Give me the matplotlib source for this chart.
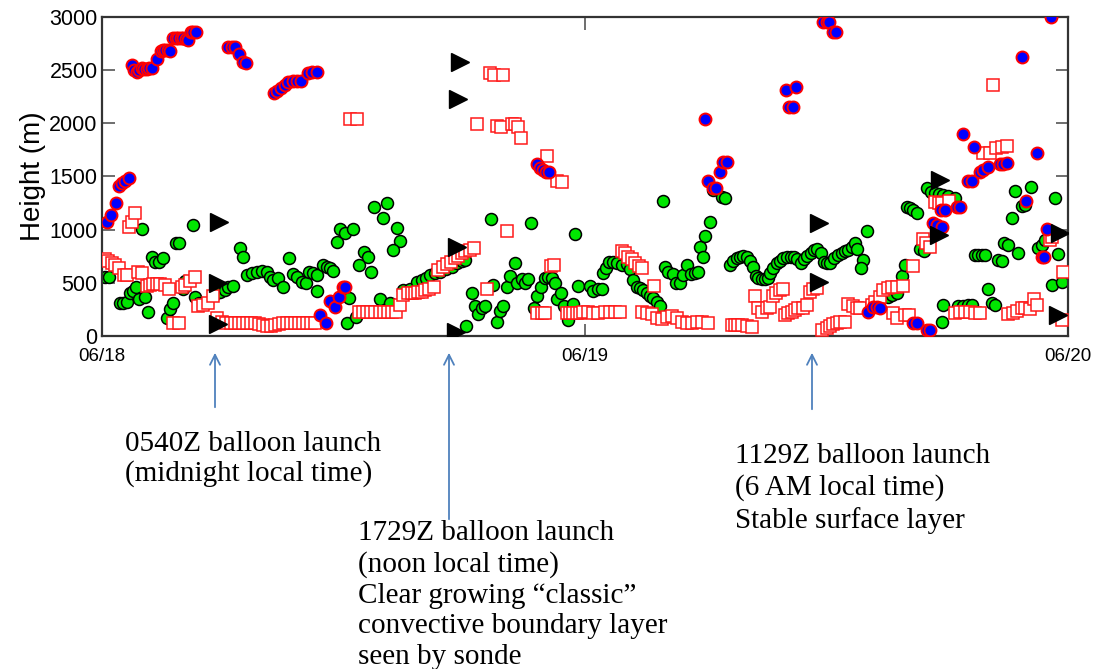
import numpy as np
import matplotlib.pyplot as plt

plt.rcParams['font.family'] = ['Liberation Sans', 'DejaVu Sans']

# hours after 06/18 00Z, heights in m
green_t = [0.16, 0.38, 0.91, 1.07, 1.24, 1.41, 1.57, 1.70, 1.87, 2.15, 2.31, 1.99, 2.48, 2.65, 2.86, 3.06,
           3.69, 3.85, 3.23, 3.39, 3.53, 4.52, 4.05, 4.14, 4.63, 4.85, 5.63, 5.88, 6.13, 6.29, 6.54, 6.87,
           7.00, 7.20, 7.45, 7.70, 7.95, 8.20, 8.36, 8.52, 8.77, 9.02, 9.32, 9.49, 9.69, 9.94, 10.15, 10.31,
           10.51, 10.71, 10.71, 10.98, 11.18, 11.34, 11.51, 11.67, 11.84, 12.09, 12.20, 12.50, 13.53, 14.16,
           13.99, 14.65, 14.82, 14.49, 13.03, 13.24, 12.80, 13.36, 12.30, 12.63, 13.83, 14.32, 14.98, 15.32,
           15.65, 15.90, 16.11, 16.31, 16.56, 16.81, 17.10, 17.39, 17.64, 17.88, 18.05, 18.12, 18.38, 18.54,
           18.71, 18.88, 19.04, 19.65, 19.79, 19.95, 19.32, 21.33, 23.51, 19.45, 20.15, 20.28, 20.53, 20.65,
           20.86, 21.03, 21.19, 21.48, 21.64, 21.81, 22.02, 22.19, 22.35, 22.52, 22.63, 22.80, 22.97, 23.18,
           23.40, 23.68, 24.26, 24.42, 24.67, 24.84, 24.92, 25.05, 25.22, 25.41, 25.61, 25.83, 26.08, 26.24,
           26.41, 26.58, 26.74, 26.91, 27.07, 27.24, 27.40, 27.57, 27.73, 27.87, 27.98, 28.15, 28.37, 28.53,
           28.73, 28.89, 29.09, 29.26, 29.47, 29.64, 29.72, 29.89, 29.97, 30.22, 30.38, 30.80, 30.96, 31.21,
           31.38, 31.54, 31.71, 31.87, 32.04, 32.21, 32.37, 32.50, 32.62, 32.79, 32.95, 33.12, 33.20, 33.36,
           33.53, 33.70, 33.86, 34.06, 34.23, 34.39, 34.56, 34.72, 34.89, 35.05, 35.22, 35.38, 35.55, 35.72,
           35.88, 36.02, 36.18, 36.38, 36.59, 36.76, 36.93, 37.09, 37.26, 37.42, 37.54, 38.03, 37.83, 37.70,
           39.74, 39.91, 39.08, 39.24, 39.49, 39.99, 40.15, 40.32, 40.52, 40.65, 40.85, 40.98, 41.18, 41.40,
           41.61, 41.81, 42.06, 42.39, 41.81, 41.73, 42.55, 42.80, 43.05, 43.22, 43.38, 43.55, 43.72, 43.88,
           44.04, 44.21, 44.38, 44.54, 44.71, 44.82, 45.04, 45.21, 45.37, 45.53, 45.70, 45.87, 46.15, 46.53,
           46.70, 46.87, 47.37, 47.52, 47.19, 47.69]
green_h = [557, 557, 307, 307, 322, 407, 426, 458, 345, 364, 228, 1002, 745, 698, 698, 730,
           877, 877, 166, 251, 313, 1043, 445, 520, 364, 307, 398, 416, 432, 458, 470, 824,
           745, 573, 589, 604, 614, 604, 557, 526, 542, 463, 730, 583, 557, 510, 495, 604,
           589, 573, 426, 667, 651, 636, 614, 886, 1002, 965, 119, 1002, 1215, 1247,
           1106, 1012, 895, 808, 792, 739, 667, 604, 354, 181, 345, 307, 432, 439,
           510, 526, 542, 573, 589, 604, 627, 651, 683, 707, 714, 94, 407, 282,
           207, 260, 282, 134, 238, 282, 1096, 1064, 958, 479, 458, 564, 683, 501,
           533, 501, 533, 260, 376, 458, 542, 551, 542, 495, 345, 407, 282, 150,
           301, 470, 470, 426, 439, 439, 589, 636, 698, 698, 689, 667, 676, 627,
           526, 458, 448, 432, 407, 376, 354, 322, 282, 1271, 651, 604, 582, 501,
           495, 573, 667, 582, 589, 604, 833, 739, 940, 1074, 1372, 1309, 1294, 667,
           707, 730, 739, 752, 745, 707, 651, 564, 542, 533, 533, 542, 589, 636,
           683, 707, 730, 745, 745, 739, 721, 689, 721, 752, 783, 808, 815, 783,
           698, 683, 689, 730, 761, 783, 801, 808, 833, 871, 815, 989, 714, 636,
           564, 667, 369, 385, 401, 1215, 1200, 1184, 1158, 815, 801, 1388, 1356, 1346,
           1334, 1325, 1315, 1294, 291, 134, 282, 282, 291, 291, 761, 761, 761, 761,
           439, 307, 291, 714, 707, 871, 855, 1106, 1365, 783, 1221, 1231, 1397, 824,
           855, 902, 1294, 770, 479, 510]

red_t = [0.16, 0.33, 0.50, 0.66, 0.87, 1.11, 1.24, 1.37, 1.49, 1.65, 1.82, 1.99, 2.24, 2.40, 2.56, 2.73,
         2.90, 3.14, 3.36, 3.53, 3.85, 3.97, 4.14, 4.39, 4.63, 4.80, 5.05, 5.30, 5.54, 5.71, 5.96,
         6.2, 6.4, 6.6, 6.8, 7.0, 7.2, 7.4, 7.6, 7.8, 8.0, 8.2, 8.4, 8.6, 8.8, 9.0, 9.2, 9.4, 9.6,
         9.8, 10.0, 10.2, 10.4, 10.6,
         12.33, 12.67, 12.8, 13.0, 13.2, 13.4, 13.6, 13.8, 14.0, 14.2, 14.4, 14.6,
         14.82, 14.98, 15.23, 15.40, 15.56, 15.73, 15.90, 16.06, 16.27, 16.51, 16.72, 16.94, 17.14, 17.34,
         17.55, 17.71, 17.88, 18.05, 18.30, 18.51, 19.29, 19.50, 19.95, 18.66, 19.65, 19.82, 20.37, 20.53,
         20.70, 20.83, 22.14, 22.60, 22.85, 20.12, 19.16, 22.32, 22.47, 21.61, 21.86, 22.02,
         23.10, 23.26, 23.43, 23.60, 23.76, 23.92, 24.17, 24.42, 24.67, 25.00, 25.25, 25.50, 25.75,
         25.83, 26.00, 26.16, 26.33, 26.49, 26.71, 26.83, 27.44, 26.83, 27.07, 27.32, 27.57, 27.82, 28.07,
         28.32, 28.56, 28.81, 29.06, 29.31, 29.56, 29.81, 30.13, 31.30, 31.46, 31.62, 31.79, 32.04, 32.29,
         32.45, 32.62, 32.79, 33.04, 33.20, 33.33, 33.50, 33.70, 33.86, 33.94, 34.11, 34.28, 34.44, 34.61,
         34.85, 35.02, 35.19, 35.35, 35.52, 35.77, 36.02, 36.18, 36.34, 36.51, 36.68, 36.92, 37.09, 37.31,
         37.51, 37.67, 38.25, 38.42, 38.66, 38.83, 39.07, 39.24, 39.52, 39.79, 39.32, 39.49, 39.90, 40.12,
         40.29, 40.82, 40.95, 41.15, 41.40, 41.61, 41.73, 42.11, 43.77, 44.13, 44.43, 44.71, 44.96, 44.29,
         42.39, 42.64, 42.89, 43.13, 43.38, 43.63, 45.04, 45.26, 45.45, 45.70, 45.87, 46.12, 46.31, 46.48,
         47.11, 47.19, 47.77, 47.69]
red_h = [721, 707, 689, 667, 636, 573, 573, 1027, 1074, 1153, 604, 589, 470, 479, 489, 489,
         489, 479, 439, 119, 119, 463, 479, 520, 554, 282, 291, 307, 376, 166, 134,
         125, 125, 119, 119, 125, 119, 125, 119, 113, 103, 94, 94, 103, 113, 119, 119, 125, 119,
         119, 125, 119, 125, 125,
         2039, 2039, 228, 228, 228, 228, 228, 228, 228, 228, 228, 228,
         291, 385, 401, 401, 407, 416, 416, 432, 439, 458, 620, 651, 676, 698,
         730, 752, 777, 801, 808, 824, 2468, 2452, 2452, 1992, 1973, 1961, 1992, 1992,
         1961, 1857, 1691, 1459, 1444, 989, 439, 658, 667, 213, 213, 213,
         219, 219, 219, 219, 219, 228, 228, 213, 213, 228, 228, 228, 228,
         801, 777, 745, 720, 683, 658, 636, 470, 228, 219, 207, 166, 157, 181,
         188, 166, 134, 125, 125, 134, 134, 119, 103, 103, 103, 103, 94, 87,
         376, 260, 228, 260, 275, 376, 407, 432, 439, 197, 213, 228, 244, 260,
         260, 291, 416, 439, 448, 56, 72, 94, 113, 125, 134, 134, 301, 282,
         260, 260, 291, 322, 369, 432, 448, 458, 458, 470, 219, 166, 197, 197,
         658, 908, 871, 833, 1262, 1247, 1252, 1271, 1722, 1716, 1763, 1778, 1785, 2358,
         219, 228, 228, 228, 219, 219, 207, 213, 238, 260, 260, 251, 345, 291,
         902, 933, 604, 150]

blue_t = [0.25, 0.46, 0.71, 0.86, 0.99, 1.16, 1.37, 1.51, 1.63, 1.74, 1.85, 1.99, 2.10, 2.24, 2.35, 2.48,
          2.73, 2.95, 3.05, 3.14, 3.29, 3.39, 3.53, 3.67, 3.81, 3.94, 4.05, 4.19, 4.30, 4.44, 4.55, 4.68,
          6.29, 6.46, 6.62, 6.84, 7.03, 7.17,
          8.56, 8.72, 8.89, 9.11, 9.27, 9.49, 9.69, 9.89, 10.23, 10.43, 10.68,
          10.84, 11.14, 11.34, 11.59, 11.80, 11.97, 12.09,
          21.64, 21.77, 21.91, 22.07, 22.24,
          29.97, 30.13, 30.38, 30.52, 30.71, 30.88, 31.05, 33.99, 34.49, 34.16, 34.33,
          35.85, 36.02, 36.15, 36.34, 36.48, 38.08, 38.33, 38.50, 38.66, 40.32, 40.52, 40.98, 41.15,
          41.31, 41.48, 41.73, 41.68, 41.89, 42.47, 42.64, 43.05, 43.22, 42.77, 43.35, 43.63, 43.80,
          44.01, 44.62, 44.79, 44.96, 45.70, 47.14, 45.92, 46.45, 46.97, 46.70, 46.81]
blue_h = [1074, 1137, 1250, 1412, 1440, 1459, 1487, 2546, 2499, 2483, 2499, 2515, 2506, 2506, 2515, 2515,
          2599, 2680, 2687, 2687, 2687, 2680, 2797, 2797, 2797, 2797, 2797, 2790, 2781, 2856, 2859, 2859,
          2712, 2712, 2712, 2649, 2577, 2568,
          2280, 2302, 2327, 2358, 2389, 2396, 2396, 2396, 2468, 2477, 2483,
          197, 125, 329, 275, 364, 463, 463,
          1616, 1576, 1560, 1544, 1544,
          2036, 1459, 1388, 1388, 1544, 1637, 1637, 2311, 2342, 2154, 2154,
          2953, 2953, 2953, 2859, 2859, 228, 275, 275, 260, 119, 119, 56, 56,
          1059, 1043, 1027, 1184, 1184, 1215, 1215, 1459, 1459, 1898, 1778, 1544, 1560,
          1585, 1616, 1616, 1622, 2618, 3000, 1271, 1722, 1002, 745, 745]

# sonde-derived layer heights
sonde_t = [5.83, 5.79, 5.79, 17.80, 17.71, 17.67, 17.60, 35.65, 35.65, 41.64, 41.61, 47.60, 47.52]
sonde_h = [1074, 495, 113, 2571, 2224, 833, 40, 1064, 510, 1466, 949, 971, 197]

day_ticks = [0, 24, 48]
day_labels = ['06/18', '06/19', '06/20']

fig = plt.figure(figsize=(10.98, 6.69), dpi=100)
ax = fig.add_axes([0.0926, 0.4978, 0.8801, 0.4772])

ax.plot(green_t, green_h, 'o', ms=8.6, mfc='#00e600', mec='black', mew=1.1, zorder=2)
ax.plot(red_t, red_h, 's', ms=8.0, mfc='white', mec='#ff1a1a', mew=1.1, zorder=3)
ax.plot(blue_t, blue_h, 'o', ms=8.6, mfc='#0000ff', mec='#ff0000', mew=1.4, zorder=4)
ax.plot(sonde_t, sonde_h, '>', ms=13, mfc='black', mec='black', zorder=5)

ax.set_xlim(0, 48)
ax.set_ylim(0, 3000)
ax.set_xticks(day_ticks)
ax.set_xticklabels(day_labels)
ax.set_yticks(np.arange(0, 3001, 500))
ax.tick_params(direction='in', length=9, width=1.2, color='#555555',
               top=True, right=True)
ax.tick_params(axis='x', labelsize=13.5, pad=9)
ax.tick_params(axis='y', labelsize=15.5, pad=3)
for s in ax.spines.values():
    s.set_color('#333333')
    s.set_linewidth(1.6)
ax.set_ylabel('Height (m)', fontsize=20, labelpad=2)

# launch annotations
serif = 'Liberation Serif'
arrow_kw = dict(arrowstyle='->', color='#4f81bd', lw=1.3, mutation_scale=18)
H = 669
for x0, y0, y1 in [(215, 410, 350), (449, 522, 350), (812, 412, 350)]:
    ax.annotate('', xy=(x0, H - y1), xytext=(x0, H - y0), xycoords='figure pixels',
                textcoords='figure pixels', arrowprops=arrow_kw)

fig.text(125, H - 431, '0540Z balloon launch\n(midnight local time)', fontsize=21,
         family=serif, va='top', ha='left', linespacing=1.14, transform=None)
fig.text(358, H - 520, '1729Z balloon launch\n(noon local time)\nClear growing \u201cclassic\u201d\n'
         'convective boundary layer\nseen by sonde', fontsize=21, family=serif,
         va='top', ha='left', linespacing=1.24, transform=None)
fig.text(735, H - 443, '1129Z balloon launch\n(6 AM local time)\nStable surface layer',
         fontsize=21, family=serif, va='top', ha='left', linespacing=1.26, transform=None)

fig.savefig('out.png', dpi=100)
